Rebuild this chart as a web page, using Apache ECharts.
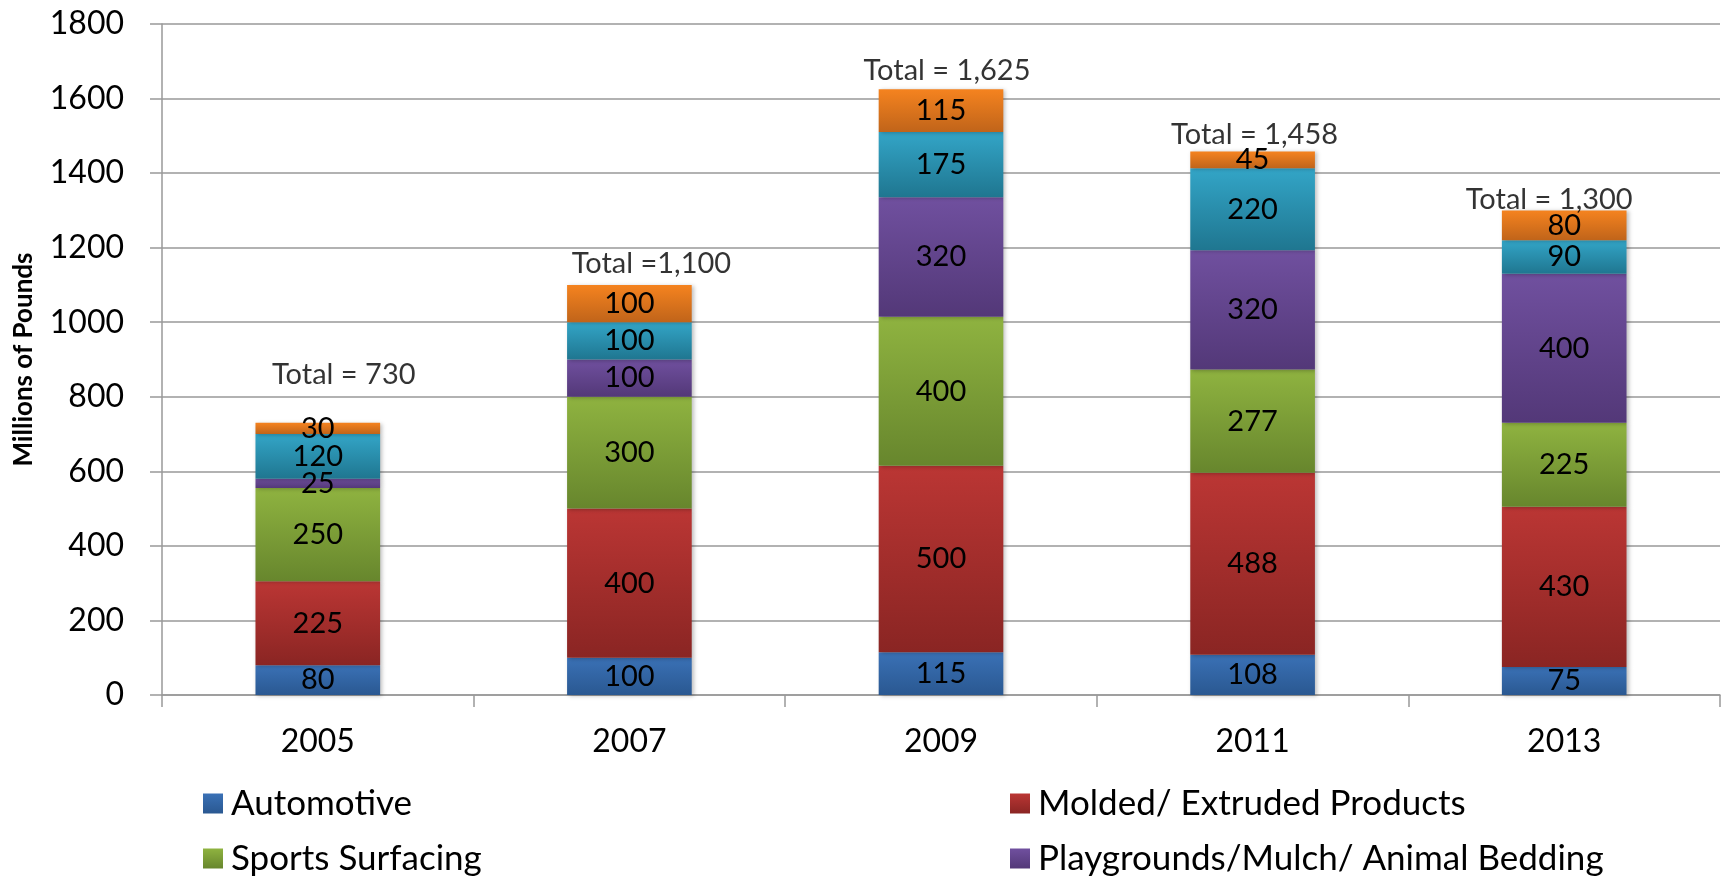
<!DOCTYPE html>
<html>
<head>
<meta charset="utf-8">
<script src="https://cdn.jsdelivr.net/npm/echarts@6/dist/echarts.min.js"></script>
<style>
  html, body { margin: 0; padding: 0; background: #fff; }
  #chart { width: 1723px; height: 876px; }
</style>
</head>
<body>
<div id="chart"></div>
<script>
// 年份
const years = ['2005', '2007', '2009', '2011', '2013']
// 各类用途（百万磅）
const automotive = [80, 100, 115, 108, 75]
const molded = [225, 400, 500, 488, 430]
const sports = [250, 300, 400, 277, 225]
const playgrounds = [25, 100, 320, 320, 400]
const asphalt = [120, 100, 175, 220, 90]
const other = [30, 100, 115, 45, 80]
// 总量标注
const totals = [730, 1100, 1625, 1458, 1300]
const totalLabels = ['Total = 730', 'Total =1,100', 'Total = 1,625', 'Total = 1,458', 'Total = 1,300']
const yTicks = { min: 0, max: 1800, interval: 200 }

const font = 'Lato, "Open Sans", sans-serif'

function grad(top, bottom) {
  return new echarts.graphic.LinearGradient(0, 0, 0, 1, [
    { offset: 0, color: top },
    { offset: 1, color: bottom }
  ])
}

const seriesDefs = [
  { name: 'Automotive', data: automotive, c: ['#3a71b6', '#2a5891'] },
  { name: 'Molded/ Extruded Products', data: molded, c: ['#bb3634', '#8a2523'] },
  { name: 'Sports Surfacing', data: sports, c: ['#8fb340', '#67862d'] },
  { name: 'Playgrounds/Mulch/ Animal Bedding', data: playgrounds, c: ['#70509f', '#533878'] },
  { name: 'Asphalt', data: asphalt, c: ['#33a5c7', '#1f7690'] },
  { name: 'Export/ Other', data: other, c: ['#f5831f', '#c0641a'] }
]

// 总量标签的位置偏移（手工放置的文本框）
const totalOffsets = [[26, -48], [22, -21], [6, -19], [2, -17], [-15, -11]]

const chart = echarts.init(document.getElementById('chart'))

const barSeries = seriesDefs.map((s) => {
  return {
    name: s.name,
    type: 'bar',
    stack: 'total',
    barWidth: '40%',
    data: s.data,
    itemStyle: {
      color: grad(s.c[0], s.c[1]),
      shadowBlur: 4,
      shadowColor: 'rgba(0,0,0,0.25)',
      shadowOffsetX: 2,
      shadowOffsetY: 1
    },
    label: {
      show: true,
      position: 'inside',
      color: '#000',
      fontFamily: font,
      fontSize: 29
    },
    emphasis: { disabled: true }
  }
})

const totalSeries = {
  name: 'Total',
  type: 'scatter',
  symbolSize: 0,
  data: totals.map((v, i) => {
    return {
      value: [years[i], v],
      label: { offset: totalOffsets[i] }
    }
  }),
  label: {
    show: true,
    position: 'inside',
    color: '#000',
    fontFamily: font,
    fontSize: 29,
    formatter: (p) => totalLabels[p.dataIndex]
  },
  z: 10
}

const legendText = { fontFamily: font, fontSize: 35, color: '#000', padding: [0, 0, 0, 3] }

const option = {
  animation: false,
  backgroundColor: '#fff',
  grid: { left: 162, right: 3, top: 24, bottom: 181, outerBoundsMode: 'none' },
  legend: [
    {
      orient: 'vertical',
      left: 198,
      top: 781,
      height: 300,
      itemWidth: 20,
      itemHeight: 20,
      itemGap: 20,
      icon: 'rect',
      textStyle: legendText,
      data: ['Automotive', 'Sports Surfacing', 'Asphalt']
    },
    {
      orient: 'vertical',
      left: 1005,
      top: 781,
      height: 300,
      itemWidth: 20,
      itemHeight: 20,
      itemGap: 20,
      icon: 'rect',
      textStyle: legendText,
      data: ['Molded/ Extruded Products', 'Playgrounds/Mulch/ Animal Bedding', 'Export/ Other']
    }
  ],
  xAxis: {
    type: 'category',
    data: years,
    axisLine: { lineStyle: { color: '#999', width: 1.5 } },
    axisTick: { show: true, length: 12, lineStyle: { color: '#999', width: 1.5 } },
    axisLabel: { color: '#000', fontFamily: font, fontSize: 32, margin: 31 }
  },
  yAxis: {
    type: 'value',
    min: yTicks.min,
    max: yTicks.max,
    interval: yTicks.interval,
    name: 'Millions of Pounds',
    nameLocation: 'middle',
    nameRotate: 90,
    nameGap: 125,
    nameTextStyle: { color: '#000', fontFamily: font, fontSize: 26, fontWeight: 'bold' },
    axisLine: { show: true, lineStyle: { color: '#999', width: 1.5 } },
    axisTick: { show: true, length: 12, lineStyle: { color: '#999', width: 1.5 } },
    splitLine: { lineStyle: { color: '#999', width: 1.5 } },
    axisLabel: { color: '#000', fontFamily: font, fontSize: 32, margin: 38, formatter: (v) => String(v) }
  },
  series: [...barSeries, totalSeries]
}

chart.setOption(option)
</script>
</body>
</html>
